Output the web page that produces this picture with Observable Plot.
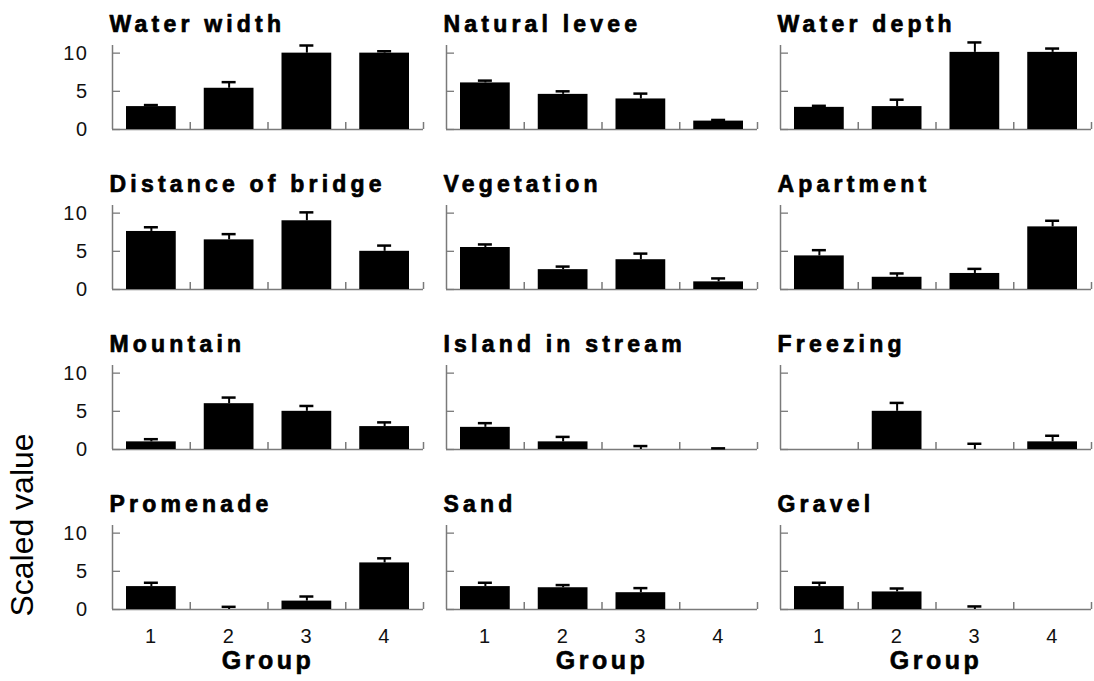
<!DOCTYPE html>
<html>
<head>
<meta charset="utf-8">
<script src="https://cdn.jsdelivr.net/npm/d3@7"></script>
<script src="https://cdn.jsdelivr.net/npm/@observablehq/plot@0.6"></script>
<style>
  html, body { margin: 0; padding: 0; background: #fff; }
  #chart { position: relative; width: 1094px; height: 681px; }
</style>
</head>
<body>
<div id="chart"></div>
<script>
// ---- data ----
const groups = [1, 2, 3, 4];
const yTicks = [0, 5, 10];
const panelNames = [
  "Water width", "Natural levee", "Water depth",
  "Distance of bridge", "Vegetation", "Apartment",
  "Mountain", "Island in stream", "Freezing",
  "Promenade", "Sand", "Gravel"
];
const waterWidth        = [3.0, 5.4, 10.0, 10.0];
const waterWidthErr     = [0.2, 0.8, 1.0, 0.25];
const naturalLevee      = [6.1, 4.6, 4.0, 1.1];
const naturalLeveeErr   = [0.3, 0.4, 0.7, 0.15];
const waterDepth        = [2.9, 3.0, 10.1, 10.1];
const waterDepthErr     = [0.2, 0.9, 1.3, 0.5];
const distanceBridge    = [7.6, 6.5, 9.0, 5.0];
const distanceBridgeErr = [0.55, 0.75, 1.1, 0.75];
const vegetation        = [5.5, 2.6, 3.9, 1.0];
const vegetationErr     = [0.4, 0.4, 0.8, 0.45];
const apartment         = [4.4, 1.6, 2.1, 8.2];
const apartmentErr      = [0.75, 0.5, 0.6, 0.8];
const mountain          = [1.0, 6.0, 5.0, 3.0];
const mountainErr       = [0.35, 0.8, 0.7, 0.55];
const island            = [2.9, 1.0, 0, 0];
const islandErr         = [0.55, 0.65, 0.45, 0.15];
const freezing          = [0, 5.0, 0, 1.0];
const freezingErr       = [0, 1.1, 0.75, 0.8];
const promenade         = [3.0, 0, 1.1, 6.1];
const promenadeErr      = [0.5, 0.35, 0.6, 0.6];
const sand              = [3.0, 2.85, 2.2, 0];
const sandErr           = [0.5, 0.35, 0.6, 0];
const gravel            = [3.0, 2.3, 0, 0];
const gravelErr         = [0.5, 0.45, 0.4, 0];
const xTitle = "Group";
const yTitle = "Scaled value";

// ---- tables ----
const panelValues = [waterWidth, naturalLevee, waterDepth, distanceBridge, vegetation, apartment,
                     mountain, island, freezing, promenade, sand, gravel];
const panelErrors = [waterWidthErr, naturalLeveeErr, waterDepthErr, distanceBridgeErr, vegetationErr, apartmentErr,
                     mountainErr, islandErr, freezingErr, promenadeErr, sandErr, gravelErr];
const nCols = 3;
const panels = panelNames.map((name, i) => ({name, col: i % nCols, row: Math.floor(i / nCols)}));
const nRows = Math.ceil(panels.length / nCols);
const rows = panels.flatMap((p, i) => groups.map((g, j) => ({
  ...p, group: g, value: panelValues[i][j], err: panelErrors[i][j]
})));
const errRows = rows.filter(d => d.err > 0);
const boundaries = groups.map(g => g + 0.5);
const xStart = groups[0] - 0.5;
const groupLabelRows = d3.range(nCols).map(c => ({col: c, row: nRows - 1, label: xTitle}));

const axisColor = "#7a7a7a";
const font = "'Liberation Sans', Arial, Helvetica, sans-serif";

const plot = Plot.plot({
  width: 1094,
  height: 681,
  marginLeft: 111,
  marginRight: 2,
  marginTop: 43,
  marginBottom: 71,
  style: {fontFamily: font, color: "#000", background: "#fff", overflow: "visible"},
  fx: {axis: null, paddingInner: 0.068, paddingOuter: 0},
  fy: {axis: null, paddingInner: 0.478, paddingOuter: 0},
  x: {domain: [xStart, groups[groups.length - 1] + 0.5]},
  y: {domain: [0, 11]},
  marks: [
    // axes lines and ticks
    Plot.ruleY([0], {stroke: axisColor, strokeWidth: 1.5}),
    Plot.ruleX([xStart], {stroke: axisColor, strokeWidth: 1.5}),
    Plot.ruleX(boundaries, {y1: 0, y2: 0, insetTop: -7, stroke: axisColor, strokeWidth: 1.5}),
    Plot.ruleY(yTicks, {x1: xStart, x2: xStart, insetRight: -8, stroke: axisColor, strokeWidth: 1.3}),
    // bars
    Plot.rect(rows, {
      fx: "col", fy: "row",
      x1: d => d.group - 0.5, x2: d => d.group + 0.5,
      y1: 0, y2: "value",
      insetLeft: 14, insetRight: 14,
      fill: "#000"
    }),
    // error bars (upper only)
    Plot.ruleX(errRows, {fx: "col", fy: "row", x: "group", y1: "value", y2: d => d.value + d.err,
      stroke: "#000", strokeWidth: 2}),
    Plot.ruleY(errRows, {fx: "col", fy: "row", y: d => d.value + d.err, x1: "group", x2: "group",
      insetLeft: -7, insetRight: -7, stroke: "#000", strokeWidth: 2.5}),
    // tick labels
    Plot.axisY({ticks: yTicks, tickSize: 0, tickPadding: 24, fontSize: 20, label: null, fill: "#111"}),
    Plot.axisX({ticks: groups, tickSize: 0, tickPadding: 19, fontSize: 20, label: null, fill: "#111",
      tickFormat: d => String(d)}),
    // panel titles
    Plot.text(panels, {fx: "col", fy: "row", text: "name", frameAnchor: "top-left", textAnchor: "start",
      lineAnchor: "middle", dx: -3, dy: -21, fontSize: 23, fontWeight: "bold",
      fill: "#000", stroke: "#000", strokeWidth: 0.7}),
    // x title per column
    Plot.text(groupLabelRows, {fx: "col", fy: "row", text: "label", frameAnchor: "bottom",
      lineAnchor: "middle", dy: 51, fontSize: 25, fontWeight: "bold",
      fill: "#000", stroke: "#000", strokeWidth: 0.6})
  ]
});

const svg = d3.select(plot);
svg.selectAll('g[font-size="23"]').style("letter-spacing", "4.2px");
svg.selectAll('g[font-size="25"]').style("letter-spacing", "3.5px");
svg.selectAll('g[aria-label="y-axis tick label"], g[aria-label="x-axis tick label"]').style("letter-spacing", "1.5px");
svg.append("text")
  .attr("transform", "translate(33,525) rotate(-90)")
  .attr("text-anchor", "middle")
  .attr("font-family", font)
  .attr("font-size", 32)
  .attr("fill", "#000")
  .text(yTitle);

document.getElementById("chart").append(plot);
</script>
</body>
</html>
